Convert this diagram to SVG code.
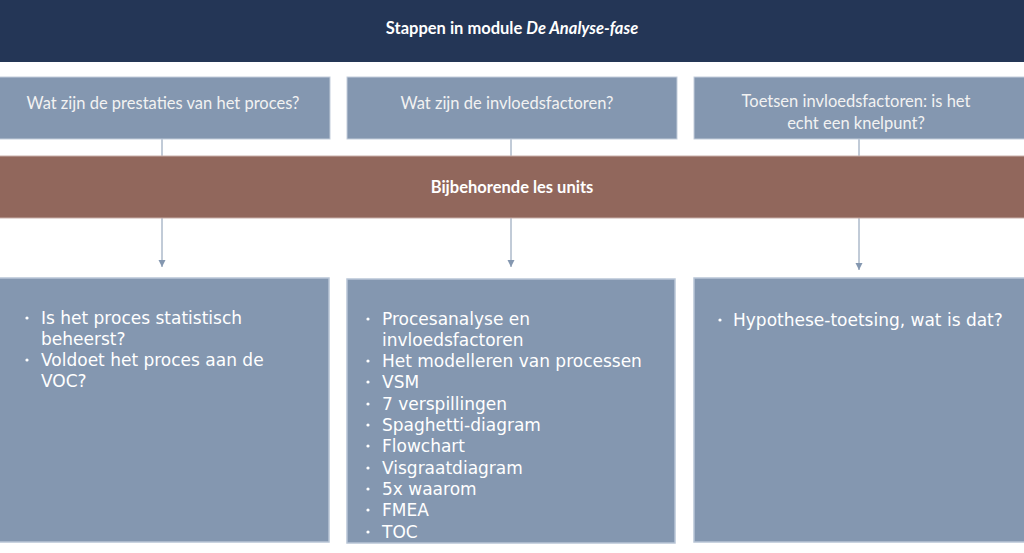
<svg xmlns="http://www.w3.org/2000/svg" width="1024" height="553" viewBox="0 0 1024 553">
<defs>
<style>
.hdr{fill:#243656}
.q{fill:#8497B0;stroke:#C3CDDB;stroke-width:1}
.band{fill:#91675C;stroke:#C9B0A9;stroke-width:1}
.box{fill:#8497B0;stroke:#B8C5D6;stroke-width:1.5}
.t{font-family:Lato,"Open Sans",sans-serif;fill:#ffffff;text-anchor:middle}
.qt{font-family:Lato,"Open Sans",sans-serif;fill:#F2F2F2;font-size:16.5px;text-anchor:middle}
.b{font-family:"DejaVu Sans",Verdana,sans-serif;fill:#ffffff;font-size:17px}
.dot{fill:#ffffff}
.conn{stroke:#8497B0;stroke-width:1;fill:none}
</style>
<marker id="arr" viewBox="0 0 10 10" refX="10" refY="5" markerWidth="7" markerHeight="8" markerUnits="userSpaceOnUse" orient="auto">
<path d="M0,0 L10,5 L0,10 z" fill="#8497B0"/>
</marker>
</defs>
<rect width="1024" height="553" fill="#ffffff"/>
<g id="connectors">
<line class="conn" x1="162" y1="139" x2="162" y2="267" marker-end="url(#arr)"/>
<line class="conn" x1="511" y1="139" x2="511" y2="267" marker-end="url(#arr)"/>
<line class="conn" x1="859" y1="139" x2="859" y2="270" marker-end="url(#arr)"/>
</g>
<g id="header">
<rect class="hdr" x="0" y="0" width="1024" height="62"/>
<text class="t" x="512" y="34" font-size="16.5" font-weight="bold">Stappen in module <tspan font-style="italic">De Analyse-fase</tspan></text>
</g>
<g id="q1">
<rect class="q" x="-1" y="77" width="331" height="62"/>
<text class="qt" x="163" y="109">Wat zijn de prestaties van het proces?</text>
</g>
<g id="q2">
<rect class="q" x="347" y="77" width="330" height="62"/>
<text class="qt" x="507" y="109">Wat zijn de invloedsfactoren?</text>
</g>
<g id="q3">
<rect class="q" x="694" y="77" width="331" height="62"/>
<text class="qt" x="856" y="107">Toetsen invloedsfactoren: is het</text>
<text class="qt" x="856" y="129">echt een knelpunt?</text>
</g>
<g id="band">
<rect class="band" x="-1" y="156" width="1026" height="62"/>
<text class="t" x="512" y="193" font-size="16.5" font-weight="bold">Bijbehorende les units</text>
</g>
<g id="units1">
<rect class="box" x="-1" y="278" width="330" height="264"/>
<circle class="dot" cx="27" cy="318" r="1.6"/>
<text class="b" x="41" y="324">Is het proces statistisch</text>
<text class="b" x="41" y="345">beheerst?</text>
<circle class="dot" cx="27" cy="360" r="1.6"/>
<text class="b" x="41" y="366">Voldoet het proces aan de</text>
<text class="b" x="41" y="387">VOC?</text>
</g>
<g id="units2">
<rect class="box" x="347" y="279" width="328" height="264"/>
<circle class="dot" cx="368" cy="319" r="1.6"/>
<text class="b" x="382" y="325">Procesanalyse en</text>
<text class="b" x="382" y="346">invloedsfactoren</text>
<circle class="dot" cx="368" cy="361" r="1.6"/>
<text class="b" x="382" y="367">Het modelleren van processen</text>
<circle class="dot" cx="368" cy="382" r="1.6"/>
<text class="b" x="382" y="388">VSM</text>
<circle class="dot" cx="368" cy="404" r="1.6"/>
<text class="b" x="382" y="410">7 verspillingen</text>
<circle class="dot" cx="368" cy="425" r="1.6"/>
<text class="b" x="382" y="431">Spaghetti-diagram</text>
<circle class="dot" cx="368" cy="446" r="1.6"/>
<text class="b" x="382" y="452">Flowchart</text>
<circle class="dot" cx="368" cy="468" r="1.6"/>
<text class="b" x="382" y="474">Visgraatdiagram</text>
<circle class="dot" cx="368" cy="489" r="1.6"/>
<text class="b" x="382" y="495">5x waarom</text>
<circle class="dot" cx="368" cy="510" r="1.6"/>
<text class="b" x="382" y="516">FMEA</text>
<circle class="dot" cx="368" cy="532" r="1.6"/>
<text class="b" x="382" y="538">TOC</text>
</g>
<g id="units3">
<rect class="box" x="694" y="278" width="331" height="264"/>
<circle class="dot" cx="720" cy="320" r="1.6"/>
<text class="b" x="733" y="326">Hypothese-toetsing, wat is dat?</text>
</g>
</svg>
